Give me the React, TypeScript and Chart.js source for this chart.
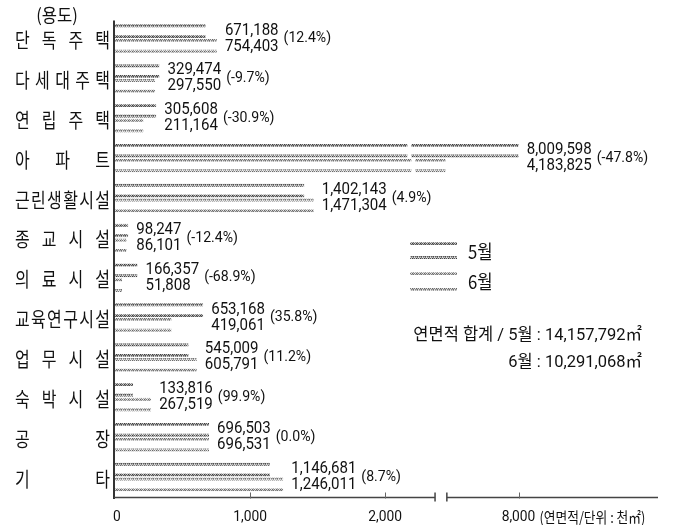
import React, { useEffect, useRef } from 'react';
import { Chart, registerables, LinearScale } from 'chart.js';

// ---------- data ----------
const CATEGORIES = ['단독주택', '다세대주택', '연립주택', '아파트', '근린생활시설', '종교시설', '의료시설', '교육연구시설', '업무시설', '숙박시설', '공장', '기타'];
const SERIES = ['5월', '6월'];
const MAY = [671188, 329474, 305608, 8009598, 1402143, 98247, 166357, 653168, 545009, 133816, 696503, 1146681];
const JUNE = [754403, 297550, 211164, 4183825, 1471304, 86101, 51808, 419061, 605791, 267519, 696531, 1246011];
const CHANGE = ['(12.4%)', '(-9.7%)', '(-30.9%)', '(-47.8%)', '(4.9%)', '(-12.4%)', '(-68.9%)', '(35.8%)', '(11.2%)', '(99.9%)', '(0.0%)', '(8.7%)'];
const TICK_VALUES = [0, 1000000, 2000000, 8000000];
const TICK_LABELS = ['0', '1,000', '2,000', '8,000'];
const UNIT_LABEL = '(연면적/단위 : 천㎡)';
const AXIS_TITLE = '(용도)';
const TOTAL_LINES = ['연면적 합계 / 5월 : 14,157,792㎡', '6월 : 10,291,068㎡'];
const AXIS_MAX = 15300000;
const BREAK_LOW = 2370000;
const BREAK_HIGH = 4250000;
const BAR_GAP_VALUE = 2180000;

const KR = '"Noto Sans CJK KR", sans-serif';
const NUM = 'Roboto, "Noto Sans CJK KR", sans-serif';

// piecewise (broken) axis transform, in display units
function fwd(v: number): number {
  const k = v / 1000;
  if (k <= 2400) return k;
  if (k <= 4000) return 2400 + (k - 2400) * (22 / 1600);
  return 2422 + (k - 4000) * 0.1415;
}
function inv(u: number): number {
  if (u <= 2400) return u * 1000;
  if (u <= 2422) return (2400 + (u - 2400) * (1600 / 22)) * 1000;
  return (4000 + (u - 2422) / 0.1415) * 1000;
}

class BrokenScale extends LinearScale {
  static id = 'broken';
  static defaults = { ticks: { callback: (v: number) => String(v) } };
  buildTicks() {
    return TICK_VALUES.map((value) => ({ value }));
  }
  getPixelForValue(value: number) {
    if (value === null || value === undefined || isNaN(value)) return NaN;
    const t0 = fwd(this.min);
    const t1 = fwd(this.max);
    return this.getPixelForDecimal((fwd(value) - t0) / (t1 - t0));
  }
  getValueForPixel(pixel: number) {
    const t0 = fwd(this.min);
    const t1 = fwd(this.max);
    return inv(t0 + this.getDecimalForPixel(pixel) * (t1 - t0));
  }
}

Chart.register(...registerables, BrokenScale);

function makePattern(dark: boolean): CanvasPattern | string {
  const c = document.createElement('canvas');
  c.width = 4;
  c.height = 3;
  const g = c.getContext('2d');
  if (!g) return '#888';
  const a = dark
    ? ['#3c3c3c', '#a8a8a8', '#5c5c5c', '#d0d0d0',
       '#8c8c8c', '#4c4c4c', '#bcbcbc', '#606060',
       '#c4c4c4', '#7a7a7a', '#e4e4e4', '#9a9a9a']
    : ['#666666', '#c8c8c8', '#7a7a7a', '#e6e6e6',
       '#a8a8a8', '#707070', '#d8d8d8', '#888888',
       '#dddddd', '#9a9a9a', '#f0f0f0', '#b4b4b4'];
  for (let i = 0; i < 12; i++) {
    g.fillStyle = a[i];
    g.fillRect(i % 4, Math.floor(i / 4), 1, 1);
  }
  const p = g.createPattern(c, 'repeat');
  return p || '#888';
}

function drawScaled(ctx: CanvasRenderingContext2D, text: string, x: number, y: number, font: string, align: CanvasTextAlign, sx: number, color = '#111') {
  ctx.save();
  ctx.font = font;
  ctx.fillStyle = color;
  ctx.textAlign = align;
  ctx.textBaseline = 'middle';
  ctx.translate(x, y);
  ctx.scale(sx, 1);
  ctx.fillText(text, 0, 0);
  ctx.restore();
}

function drawJustified(ctx: CanvasRenderingContext2D, text: string, x0: number, x1: number, y: number, font: string, sx: number) {
  ctx.save();
  ctx.font = font;
  ctx.fillStyle = '#111';
  ctx.textAlign = 'left';
  ctx.textBaseline = 'middle';
  (ctx as any).letterSpacing = '0px';
  const w0 = ctx.measureText(text).width;
  const n = Array.from(text).length;
  const target = (x1 - x0) / sx;
  const gap = n > 1 ? (target - w0) / (n - 1) : 0;
  (ctx as any).letterSpacing = gap + 'px';
  ctx.translate(x0, y);
  ctx.scale(sx, 1);
  ctx.fillText(text, 0, 0);
  (ctx as any).letterSpacing = '0px';
  ctx.restore();
}

const decorPlugin = {
  id: 'decor',
  afterDatasetsDraw(chart: any) {
    const ctx: CanvasRenderingContext2D = chart.ctx;
    const xs = chart.scales.x;
    const ys = chart.scales.y;
    const area = chart.chartArea;
    const fmt = (v: number) => v.toLocaleString('en-US');

    // white gap across bars that pass the axis break
    const gx = xs.getPixelForValue(BAR_GAP_VALUE);
    chart.data.datasets.forEach((ds: any, di: number) => {
      const meta = chart.getDatasetMeta(di);
      meta.data.forEach((bar: any, i: number) => {
        if (ds.data[i] > BREAK_LOW) {
          const p = bar.getProps(['y', 'height'], true);
          ctx.save();
          ctx.fillStyle = '#fff';
          ctx.fillRect(gx + (di === 0 ? -2 : 2), p.y - p.height / 2 - 1, 4, p.height + 2);
          ctx.restore();
        }
      });
    });

    // y axis line
    ctx.save();
    ctx.strokeStyle = '#333';
    ctx.lineWidth = 2;
    ctx.beginPath();
    ctx.moveTo(area.left - 1, area.top + 2);
    ctx.lineTo(area.left - 1, area.bottom + 2);
    ctx.stroke();
    ctx.restore();

    // x axis line with break
    const ay = area.bottom + 0.5;
    const b1 = xs.getPixelForValue(BREAK_LOW);
    const b2 = xs.getPixelForValue(BREAK_HIGH);
    ctx.save();
    ctx.strokeStyle = '#444';
    ctx.lineWidth = 1.5;
    ctx.beginPath();
    ctx.moveTo(area.left - 1, ay);
    ctx.lineTo(b1, ay);
    ctx.moveTo(b2, ay);
    ctx.lineTo(area.right, ay);
    ctx.moveTo(b1, ay - 5);
    ctx.lineTo(b1, ay + 4);
    ctx.moveTo(b2, ay - 5);
    ctx.lineTo(b2, ay + 4);
    ctx.stroke();
    ctx.lineWidth = 1;
    ctx.strokeStyle = '#666';
    TICK_VALUES.forEach((v) => {
      if (v === 0) return;
      const px = Math.round(xs.getPixelForValue(v)) + 0.5;
      ctx.beginPath();
      ctx.moveTo(px, ay - 5);
      ctx.lineTo(px, ay + 1);
      ctx.stroke();
    });
    ctx.restore();

    // x tick labels + unit
    TICK_VALUES.forEach((v, i) => {
      const px = xs.getPixelForValue(v);
      drawScaled(ctx, TICK_LABELS[i], px + (i === 0 ? 2 : 0), area.bottom + 20, '15px ' + NUM, 'center', 0.92);
    });
    {
      ctx.save();
      ctx.font = '15px ' + NUM;
      const w8 = ctx.measureText(TICK_LABELS[3]).width * 0.92;
      ctx.restore();
      const px = xs.getPixelForValue(TICK_VALUES[3]);
      drawScaled(ctx, UNIT_LABEL, px + w8 / 2 + 4, area.bottom + 20, '15px ' + KR, 'left', 0.85);
    }

    // category labels (justified)
    CATEGORIES.forEach((c, i) => {
      const y = ys.getPixelForValue(i) + 2;
      drawJustified(ctx, c, 15, 110, y, '20px ' + KR, 0.8);
    });
    drawScaled(ctx, AXIS_TITLE, 57, 15, '18px ' + KR, 'center', 0.92);

    // value labels
    CATEGORIES.forEach((_, i) => {
      const y = ys.getPixelForValue(i);
      const v5 = MAY[i];
      const v6 = JUNE[i];
      const x = Math.max(xs.getPixelForValue(v5), xs.getPixelForValue(v6)) + 8;
      const sx = 0.94;
      ctx.save();
      ctx.font = '16px ' + NUM;
      const w = Math.max(ctx.measureText(fmt(v5)).width, ctx.measureText(fmt(v6)).width) * sx;
      ctx.restore();
      drawScaled(ctx, fmt(v5), x, y - 8, '16px ' + NUM, 'left', sx);
      drawScaled(ctx, fmt(v6), x, y + 8, '16px ' + NUM, 'left', sx);
      drawScaled(ctx, CHANGE[i], x + w + 5, y, '15px ' + NUM, 'left', 0.94);
    });

    // legend
    chart.data.datasets.forEach((ds: any, di: number) => {
      const top = di === 0 ? 242 : 272;
      const h = di === 0 ? 14 : 16;
      ctx.save();
      ctx.fillStyle = ds.borderColor;
      ctx.fillRect(410, top, 47, 3);
      ctx.fillRect(410, top + h, 47, 3);
      ctx.restore();
      drawScaled(ctx, ds.label, 468, di === 0 ? 252 : 282, '19px ' + KR, 'left', 0.88);
    });

    // totals
    drawScaled(ctx, TOTAL_LINES[0], 642, 336, '17px ' + NUM, 'right', 0.97);
    drawScaled(ctx, TOTAL_LINES[1], 642, 363, '17px ' + NUM, 'right', 0.97);
  },
};

export default function App() {
  const ref = useRef<HTMLCanvasElement | null>(null);
  useEffect(() => {
    if (!ref.current) return;
    const chart = new Chart(ref.current, {
      type: 'bar',
      data: {
        labels: CATEGORIES,
        datasets: [
          {
            label: SERIES[0],
            data: MAY,
            backgroundColor: 'rgba(255,255,255,0)',
            borderColor: makePattern(true) as any,
            borderWidth: { top: 3, bottom: 3, left: 0, right: 0 },
            borderSkipped: false,
            categoryPercentage: 0.74,
            barPercentage: 0.93,
          },
          {
            label: SERIES[1],
            data: JUNE,
            backgroundColor: 'rgba(255,255,255,0)',
            borderColor: makePattern(false) as any,
            borderWidth: { top: 3, bottom: 3, left: 0, right: 0 },
            borderSkipped: false,
            categoryPercentage: 0.74,
            barPercentage: 0.93,
          },
        ],
      },
      options: {
        indexAxis: 'y',
        responsive: false,
        animation: false,
        layout: { padding: { left: 115, right: 16, top: 18.6, bottom: 28 } },
        scales: {
          x: { type: 'broken' as any, min: 0, max: AXIS_MAX, display: false },
          y: { type: 'category', display: false, offset: true },
        },
        plugins: {
          legend: { display: false },
          tooltip: { enabled: false },
        },
      },
      plugins: [decorPlugin],
    });
    return () => chart.destroy();
  }, []);
  return (
    <div style={{ position: 'fixed', left: 0, top: 0, width: 674, height: 525, background: '#fff' }}>
      <canvas ref={ref} width={674} height={525} style={{ display: 'block', width: 674, height: 525 }} />
    </div>
  );
}
